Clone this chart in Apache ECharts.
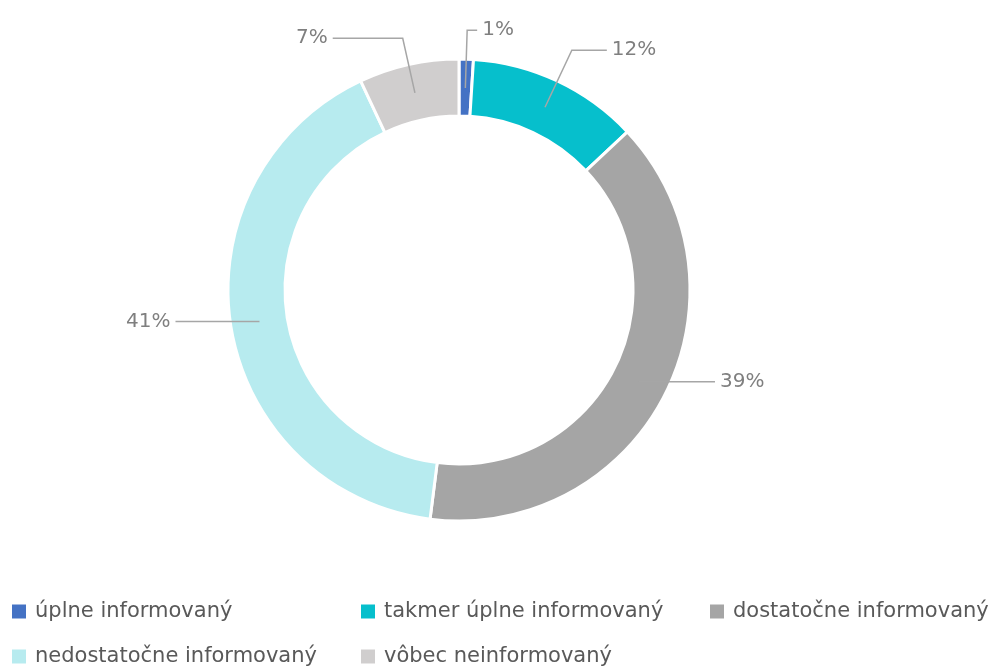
<!DOCTYPE html>
<html>
<head>
<meta charset="utf-8">
<script src="https://cdn.jsdelivr.net/npm/echarts@6/dist/echarts.min.js"></script>
<style>
  html, body { margin: 0; padding: 0; background: #fff; }
  #chart { width: 995px; height: 666px; }
</style>
</head>
<body>
<div id="chart"></div>
<script>
const categories = ['úplne informovaný', 'takmer úplne informovaný', 'dostatočne informovaný', 'nedostatočne informovaný', 'vôbec neinformovaný'];
const values = [1, 12, 39, 41, 7];

const palette = ['#4472c4', '#06bfcc', '#a5a5a5', '#b7ebef', '#d0cece'];
const leaderLens = [[58, 10], [63, 35], [0, 76], [0, 84], [56, 70]];
const legendTextWidths = [314, 314, 250, 314, 314];

const chart = echarts.init(document.getElementById('chart'), null, { renderer: 'canvas' });

const ringData = categories.map((name, i) => ({
  name, value: values[i], itemStyle: { color: palette[i] }
}));
const labelData = categories.map((name, i) => ({
  name, value: values[i],
  labelLine: { length: leaderLens[i][0], length2: leaderLens[i][1] }
}));

chart.setOption({
  animation: false,
  backgroundColor: '#fff',
  legend: {
    data: categories.map((name, i) => ({ name, textStyle: { width: legendTextWidths[i] } })),
    left: 10,
    right: 0,
    top: 594,
    padding: 0,
    icon: 'rect',
    itemWidth: 16,
    itemHeight: 16,
    itemGap: 10,
    selectedMode: false,
    textStyle: {
      fontFamily: 'DejaVu Sans',
      fontSize: 21,
      color: '#595959',
      lineHeight: 35,
      padding: [0, 0, 0, 3]
    }
  },
  series: [
    {
      type: 'pie',
      name: 'ring',
      center: [459, 290],
      radius: [174, 231],
      startAngle: 90,
      clockwise: true,
      silent: true,
      label: { show: false },
      labelLine: { show: false },
      itemStyle: { borderColor: '#ffffff', borderWidth: 3 },
      data: ringData,
      z: 1
    },
    {
      type: 'pie',
      name: 'labels',
      center: [459, 290],
      radius: [0, 202],
      startAngle: 90,
      clockwise: true,
      silent: true,
      avoidLabelOverlap: false,
      itemStyle: { color: 'rgba(0,0,0,0)' },
      emphasis: { disabled: true },
      label: {
        show: true,
        position: 'outside',
        formatter: '{c}%',
        fontFamily: 'DejaVu Sans',
        fontSize: 20,
        color: '#7f7f7f'
      },
      labelLine: {
        show: true,
        smooth: false,
        lineStyle: { color: '#a6a6a6', width: 1.5 }
      },
      data: labelData,
      z: 3
    }
  ]
});
</script>
</body>
</html>
